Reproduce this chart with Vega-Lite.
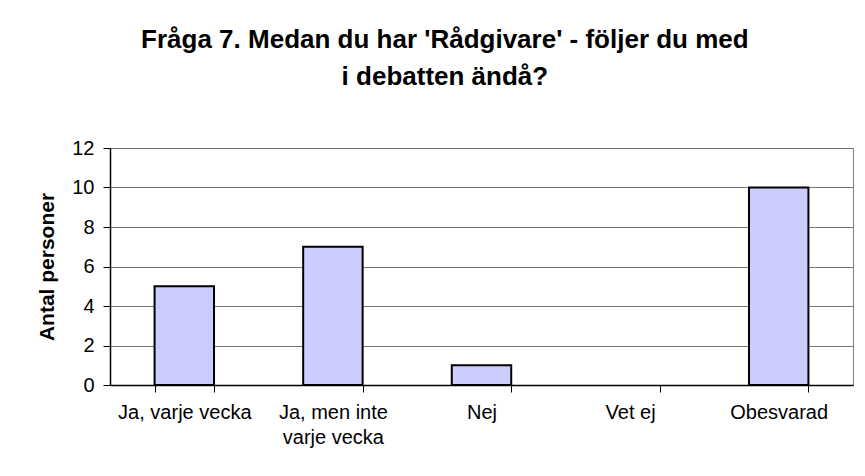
{
  "$schema": "https://vega.github.io/schema/vega-lite/v6.json",
  "width": 743,
  "height": 237,
  "autosize": {"type": "none"},
  "padding": {"left": 110, "top": 148, "right": 12, "bottom": 91},
  "background": "white",
  "title": {
    "text": ["Fråga 7. Medan du har 'Rådgivare' - följer du med", "i debatten ändå?"],
    "font": "Liberation Sans",
    "fontSize": 26,
    "fontWeight": "bold",
    "color": "black",
    "lineHeight": 37,
    "anchor": "middle",
    "frame": "bounds",
    "offset": 48
  },
  "config": {
    "view": {"stroke": "#808080", "strokeWidth": 1},
    "font": "Liberation Sans"
  },
  "data": {
    "values": [
      {"svar": "Ja, varje vecka", "antal": 5},
      {"svar": "Ja, men inte varje vecka", "antal": 7},
      {"svar": "Nej", "antal": 1},
      {"svar": "Vet ej", "antal": 0},
      {"svar": "Obesvarad", "antal": 10}
    ]
  },
  "mark": {"type": "bar", "fill": "#CCCCFF", "stroke": "black", "strokeWidth": 2},
  "encoding": {
    "strokeOpacity": {"condition": {"test": "datum.antal == 0", "value": 0}, "value": 1},
    "x": {
      "field": "svar",
      "type": "nominal",
      "sort": null,
      "scale": {"paddingInner": 0.6, "paddingOuter": 0.3},
      "axis": {
        "title": null,
        "labelAngle": 0,
        "labelFont": "Liberation Sans",
        "labelFontSize": 20,
        "labelColor": "black",
        "labelPadding": 10,
        "labelLineHeight": 25,
        "labelExpr": "datum.value == 'Ja, men inte varje vecka' ? ['Ja, men inte', 'varje vecka'] : datum.value",
        "tickBand": "extent",
        "tickColor": "black",
        "tickSize": 7,
        "domainColor": "black",
        "domainWidth": 1.5,
        "grid": false
      }
    },
    "y": {
      "field": "antal",
      "type": "quantitative",
      "scale": {"domain": [0, 12]},
      "axis": {
        "title": "Antal personer",
        "titleFont": "Liberation Sans",
        "titleFontSize": 21,
        "titleFontWeight": "bold",
        "titleColor": "black",
        "titlePadding": 14,
        "values": [0, 2, 4, 6, 8, 10, 12],
        "labelFont": "Liberation Sans",
        "labelFontSize": 20,
        "labelColor": "black",
        "labelPadding": 9,
        "tickColor": "black",
        "tickSize": 7,
        "domainColor": "black",
        "domainWidth": 1.5,
        "grid": true,
        "gridColor": "#777777",
        "gridWidth": 1
      }
    }
  }
}
